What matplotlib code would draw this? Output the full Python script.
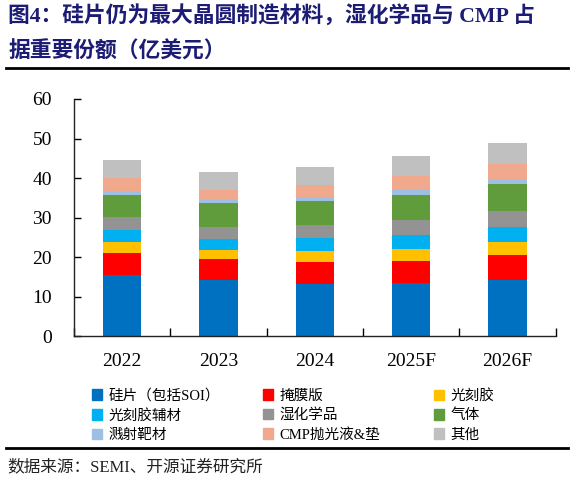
import numpy as np
import matplotlib
matplotlib.use("Agg")
import matplotlib.pyplot as plt
from matplotlib.patches import Patch
from matplotlib.lines import Line2D

plt.rcParams['font.family'] = ['Liberation Serif', 'Noto Sans CJK SC', 'DejaVu Sans']

# data (亿美元)
years = ['2022', '2023', '2024', '2025F', '2026F']
names = ['硅片（包括SOI）', '掩膜版', '光刻胶', '光刻胶辅材', '湿化学品', '气体',
         '溅射靶材', 'CMP抛光液&垫', '其他']
silicon = [15.5, 14.1, 13.1, 13.3, 14.3]
mask = [5.5, 5.3, 5.6, 5.8, 6.2]
photoresist = [2.7, 2.4, 2.8, 3.0, 3.2]
pr_aux = [3.1, 2.7, 3.3, 3.4, 3.8]
wet_chem = [3.4, 3.0, 3.3, 3.9, 4.1]
gas = [5.5, 6.1, 6.0, 6.3, 6.8]
target = [1.0, 0.8, 1.0, 1.2, 1.2]
cmp_ = [3.3, 2.6, 3.1, 3.5, 3.9]
other = [4.6, 4.6, 4.7, 5.1, 5.4]
series = [silicon, mask, photoresist, pr_aux, wet_chem, gas, target, cmp_, other]
colors = ['#0070C0', '#FF0000', '#FFC000', '#00B0F0', '#939393', '#609B3C',
          '#9DBFE3', '#F0A98C', '#C0C0C0']

fig = plt.figure(figsize=(5.79, 4.86), dpi=100)
ax = fig.add_axes([0.1278, 0.3086, 0.832, 0.4877])

x = np.arange(len(years))
bottom = np.zeros(len(years))
for vals, c in zip(series, colors):
    ax.bar(x, vals, width=0.4, bottom=bottom, color=c, edgecolor='none')
    bottom += np.array(vals)

ax.set_ylim(0, 60)
ax.set_xlim(-0.5, len(years) - 0.5)
ax.set_yticks(range(0, 61, 10))
ax.set_xticks(x)
ax.set_xticklabels(years)
ax.set_xticks(np.arange(-0.5, len(years)), minor=True)
ax.tick_params(axis='x', which='major', length=0, pad=12, labelsize=14)
ax.tick_params(axis='x', which='minor', direction='in', length=6, width=1)
ax.tick_params(axis='y', direction='in', length=5, width=1, labelsize=14, pad=16)
for s in ['top', 'right']:
    ax.spines[s].set_visible(False)
for s in ['left', 'bottom']:
    ax.spines[s].set_linewidth(1)
    ax.spines[s].set_color('#222222')

# title
title_color = '#1c1c74'
fig.text(0.014, 0.967, '图4：硅片仍为最大晶圆制造材料，湿化学品与 CMP 占', fontsize=15.7,
         fontweight='bold', color=title_color, va='center', ha='left')
fig.text(0.014, 0.892, '据重要份额（亿美元）', fontsize=15.7,
         fontweight='bold', color=title_color, va='center', ha='left')
fig.add_artist(Line2D([0.010, 0.981], [1 - 68 / 486, 1 - 68 / 486], color='black', lw=2))

# legend: three columns, placed one by one
col_x = [95 / 579, 266 / 579, 437 / 579]
for j in range(3):
    handles = [Patch(color=colors[i], label=names[i]) for i in range(j, 9, 3)]
    fig.legend(handles=handles, loc='upper left',
               bbox_to_anchor=(col_x[j] - 0.006, 1 - 389 / 486),
               frameon=False, fontsize=10.5, handlelength=0.75, handleheight=0.75,
               handletextpad=0.4, labelspacing=0.4, borderaxespad=0, borderpad=0)

fig.add_artist(Line2D([0.010, 0.981], [1 - 448 / 486, 1 - 448 / 486], color='black', lw=2))
fig.text(0.012, 1 - 467 / 486, '数据来源：SEMI、开源证券研究所', fontsize=12,
         va='center', ha='left', color='#222222')

fig.savefig('out.png', dpi=100)
